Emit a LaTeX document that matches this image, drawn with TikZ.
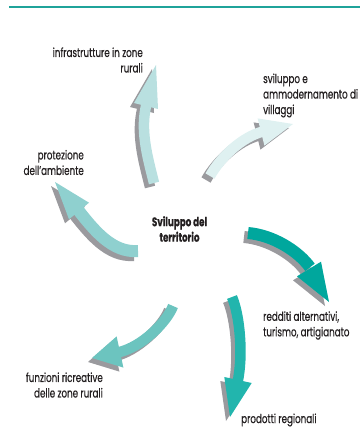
\documentclass[tikz,border=0pt]{standalone}
\usepackage{fontspec}
\setmainfont{Poppins}[FakeStretch=0.7, FakeBold=0.5]
\definecolor{txt}{HTML}{231F20}
\definecolor{topline}{HTML}{1FA39A}
\definecolor{shadowgray}{HTML}{9A9A9E}
\definecolor{aone}{HTML}{B9E0E0}
\definecolor{atwo}{HTML}{DFF1F1}
\definecolor{athree}{HTML}{8FD0CF}
\definecolor{afour}{HTML}{00A79D}
\definecolor{afive}{HTML}{6CC4BF}
\definecolor{asix}{HTML}{22B5AD}
\newcommand\curvedarrow[8]{%
  \begin{scope}[shift={(-4,4)}]
    \draw[line width=#2, draw=shadowgray] #3 .. controls #4 and #5 .. #6;
    \fill[shadowgray] #7 -- #8 -- cycle;
  \end{scope}
  \draw[line width=#2, draw=#1] #3 .. controls #4 and #5 .. #6;
  \fill[#1] #7 -- #8 -- cycle;
}
\begin{document}
\begin{tikzpicture}[x=1pt,y=-1pt,
  lbl/.style={font=\fontsize{12.5}{15.5}\selectfont, text=txt, inner sep=0pt},
  ctr/.style={lbl, font=\fontsize{12.5}{15.5}\selectfont\bfseries, align=center}]
\useasboundingbox (0,0) rectangle (360,434);
\draw[topline, line width=2pt] (9,7) -- (360,7);

% arrow 1: up to infrastrutture
\curvedarrow{aone}{10.5pt}{(154,183)}{(147,155)}{(140,130)}{(146.5,104)}{(134,103) -- (158,109)}{(156,65)}
% arrow 2: to sviluppo e ammodernamento
\curvedarrow{atwo}{10.5pt}{(210,176)}{(220,158)}{(241.6,136.9)}{(263,131.5)}{(257.6,118.4) -- (264.4,145.6)}{(293,124)}
% arrow 3: to protezione
\curvedarrow{athree}{12pt}{(138,251)}{(112,253)}{(94,230)}{(77.7,209.5)}{(89,202.7) -- (69,219.3)}{(55,182)}
% arrow 4: to redditi
\curvedarrow{afour}{12pt}{(248,233)}{(272,235)}{(297.6,250.2)}{(310,267.3)}{(321,261.7) -- (297,276.3)}{(329,302)}
% arrow 5: to funzioni ricreative
\curvedarrow{afive}{10.5pt}{(173,306)}{(167,322)}{(141.5,347.4)}{(118,352.4)}{(123.4,367.6) -- (116.6,336.4)}{(92,358)}
% arrow 6: to prodotti regionali
\curvedarrow{asix}{10.5pt}{(232,297)}{(240,316)}{(243.3,355.6)}{(237.6,382)}{(251.7,383) -- (224.3,377)}{(230,417)}

\node[lbl, align=right, anchor=east] (infra) at (143,60) {infrastrutture in zone\\rurali};
\node[lbl, align=left, anchor=west] (villaggi) at (263,95.5) {sviluppo e\\ammodernamento di\\villaggi};
\node[lbl, align=right, anchor=east] (ambiente) at (84,162.5) {protezione\\dell’ambiente};
\node[ctr] (centro) at (179.5,229) {Sviluppo del\\territorio};
\node[lbl, align=left, anchor=west] (redditi) at (263,325.5) {redditi alternativi,\\turismo, artigianato};
\node[lbl, align=right, anchor=east] (funzioni) at (103,385) {funzioni ricreative\\delle zone rurali};
\node[lbl, anchor=west] (prodotti) at (241,420) {prodotti regionali};
\end{tikzpicture}
\end{document}
